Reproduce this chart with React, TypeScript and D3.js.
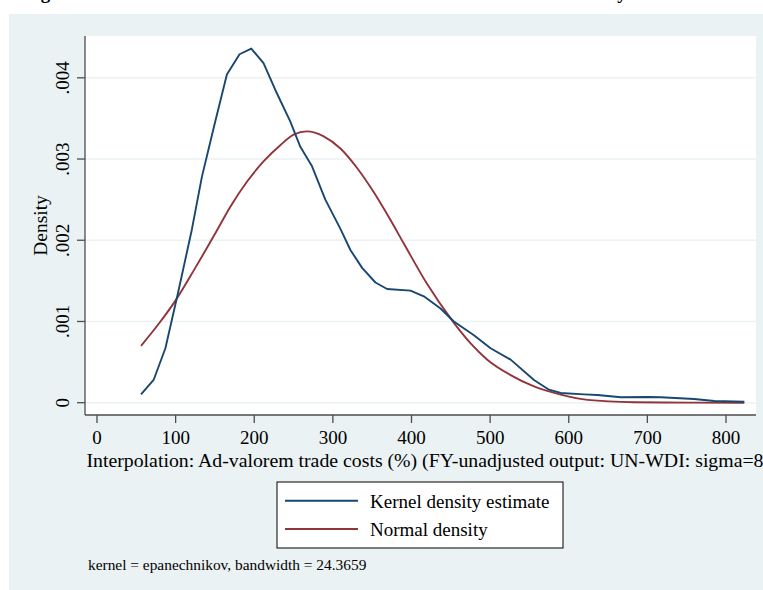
import React from 'react';
import * as d3 from 'd3';

const titleText = 'Figure 8: Distribution of Ad-Valorem Trade Costs at the Bilateral Industry Level';
const xAxisTitle = 'Interpolation: Ad-valorem trade costs (%) (FY-unadjusted output: UN-WDI: sigma=8';
const yAxisTitle = 'Density';
const noteText = 'kernel = epanechnikov, bandwidth = 24.3659';
const legendLabels = ['Kernel density estimate', 'Normal density'];

const xTicks = [0, 100, 200, 300, 400, 500, 600, 700, 800];
const yTicks = [0, 0.001, 0.002, 0.003, 0.004];
const yTickLabels = ['0', '.001', '.002', '.003', '.004'];

const kernelX = [56, 72, 87, 103, 120.6, 133.4, 150.3, 165.2, 181.3, 196.2, 211.8, 226.8, 245.9, 258.6, 273.5, 290.4, 309.6, 322.3, 337.2, 354.1, 369, 398.7, 415.7, 436.9, 453.9, 479.4, 500.6, 526.1, 555.8, 574.9, 589.8, 619.5, 636.6, 666.2, 700.3, 717.1, 759.6, 785.1, 823.3];
const kernelY = [0.000103, 0.00028, 0.00067, 0.00135, 0.00213, 0.00278, 0.00346, 0.00404, 0.00429, 0.00436, 0.00418, 0.00385, 0.00346, 0.00315, 0.00291, 0.0025, 0.00214, 0.00188, 0.00166, 0.00148, 0.0014, 0.00138, 0.00131, 0.00116, 0.001, 0.00083, 0.00067, 0.00053, 0.00028, 0.00016, 0.00012, 0.000103, 0.000095, 0.000067, 0.00007, 0.000067, 0.000046, 0.000021, 0.000012];

const normalX = [56, 80, 100, 125, 152.5, 169.4, 190.7, 211.8, 233.1, 250.1, 267.1, 288.3, 309.6, 330.8, 352.1, 372, 390.2, 420, 451.8, 475.2, 496.4, 526.1, 555.8, 589.8, 623.8, 683.2, 750, 823.3];
const normalY = [0.0007, 0.00099, 0.00126, 0.00166, 0.00212, 0.00241, 0.00272, 0.00297, 0.00317, 0.0033, 0.00334, 0.00328, 0.00313, 0.00289, 0.00259, 0.00227, 0.00196, 0.00146, 0.00101, 0.00073, 0.00053, 0.00034, 0.0002, 0.0001, 0.000035, 0.000006, 0.000001, 0];

const W = 763;
const H = 590;
const FONT = '"Liberation Serif", "Times New Roman", Times, serif';
const BG = '#eaf2f3';
const NAVY = '#1a476f';
const MAROON = '#90353b';
const AXIS = '#4d4d4d';

const plot = { left: 85, right: 756, top: 36, bottom: 415 };

export default function App() {
  const x = d3.scaleLinear().domain([0, 800]).range([97, 726]);
  const y = d3.scaleLinear().domain([0, 0.004]).range([402.7, 77.8]);

  const kernelData: [number, number][] = kernelX.map((v, i) => [v, kernelY[i]]);
  const normalData: [number, number][] = normalX.map((v, i) => [v, normalY[i]]);

  const kernelLine = d3.line<[number, number]>().x(d => x(d[0])).y(d => y(d[1])).curve(d3.curveLinear);
  const normalLine = d3.line<[number, number]>().x(d => x(d[0])).y(d => y(d[1])).curve(d3.curveMonotoneX);

  const legend = { x: 277, y: 482, w: 286, h: 66 };

  return (
    <svg width={W} height={H} style={{ position: 'absolute', left: 0, top: 0, display: 'block' }} fontFamily={FONT}>
      <rect x={0} y={0} width={W} height={H} fill="#ffffff" />
      <text x={24} y={-1.5} fontSize={18.95} fontWeight="bold" fill="#000">{titleText}</text>
      <rect x={9} y={14} width={W - 9} height={H - 14} fill={BG} />
      <rect x={plot.left} y={plot.top} width={plot.right - plot.left} height={plot.bottom - plot.top} fill="#ffffff" />

      {yTicks.map((t, i) => (
        <line key={'g' + i} x1={plot.left} x2={plot.right} y1={y(t)} y2={y(t)} stroke={BG} strokeWidth={1.6} />
      ))}

      <path d={normalLine(normalData) || ''} fill="none" stroke={MAROON} strokeWidth={1.9} strokeLinejoin="round" />
      <path d={kernelLine(kernelData) || ''} fill="none" stroke={NAVY} strokeWidth={1.9} strokeLinejoin="round" />

      <line x1={plot.left} x2={plot.left} y1={plot.top} y2={plot.bottom} stroke={AXIS} strokeWidth={1.3} />
      <line x1={plot.left} x2={plot.right} y1={plot.bottom} y2={plot.bottom} stroke={AXIS} strokeWidth={1.3} />

      {yTicks.map((t, i) => (
        <g key={'yt' + i}>
          <line x1={plot.left - 8} x2={plot.left} y1={y(t)} y2={y(t)} stroke={AXIS} strokeWidth={1.3} />
          <text transform={`translate(68.5,${y(t)}) rotate(-90)`} textAnchor="middle" fontSize={19} fill="#000">{yTickLabels[i]}</text>
        </g>
      ))}
      <text transform={`translate(46.5,${(plot.top + plot.bottom) / 2}) rotate(-90)`} textAnchor="middle" fontSize={19.5} fill="#000">{yAxisTitle}</text>

      {xTicks.map((t, i) => (
        <g key={'xt' + i}>
          <line x1={x(t)} x2={x(t)} y1={plot.bottom} y2={plot.bottom + 8} stroke={AXIS} strokeWidth={1.3} />
          <text x={x(t)} y={443.5} textAnchor="middle" fontSize={19} fill="#000">{t}</text>
        </g>
      ))}
      <text x={425} y={467} textAnchor="middle" fontSize={19.8} fill="#000">{xAxisTitle}</text>

      <rect x={legend.x} y={legend.y} width={legend.w} height={legend.h} fill="#ffffff" stroke="#000" strokeWidth={1} />
      <line x1={285} x2={358} y1={500.7} y2={500.7} stroke={NAVY} strokeWidth={1.9} />
      <line x1={285} x2={358} y1={529} y2={529} stroke={MAROON} strokeWidth={1.9} />
      <text x={370} y={507.5} fontSize={19} fill="#000">{legendLabels[0]}</text>
      <text x={370} y={535.8} fontSize={19} fill="#000">{legendLabels[1]}</text>

      <text x={88} y={570} fontSize={15.4} fill="#000">{noteText}</text>
    </svg>
  );
}
